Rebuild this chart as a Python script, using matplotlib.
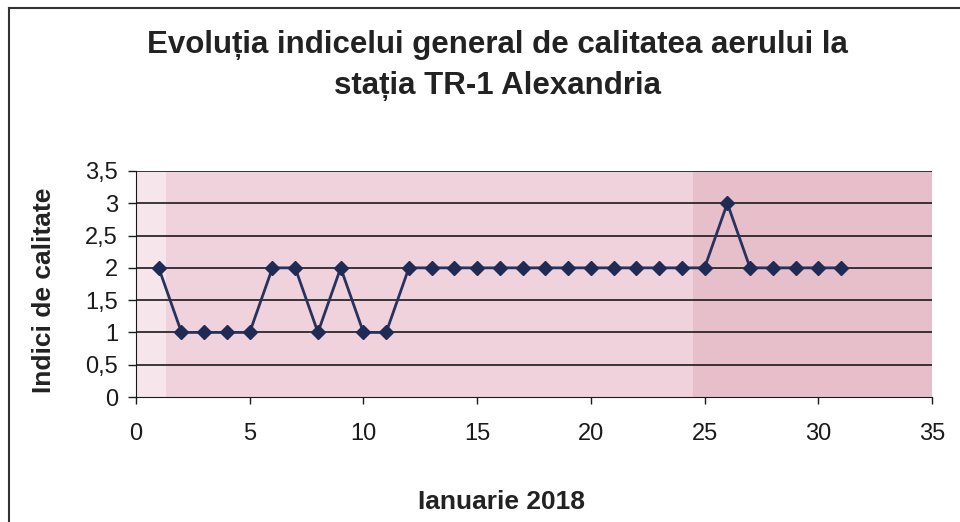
import matplotlib
matplotlib.use("Agg")
import matplotlib.pyplot as plt
from matplotlib.lines import Line2D
from matplotlib.ticker import FuncFormatter

# zilele lunii si indicii de calitate
zile = list(range(1, 32))
indici = [2, 1, 1, 1, 1, 2, 2, 1, 2, 1, 1, 2, 2, 2, 2, 2, 2, 2, 2, 2,
          2, 2, 2, 2, 2, 3, 2, 2, 2, 2, 2]

x_ticks = [0, 5, 10, 15, 20, 25, 30, 35]
y_ticks = [0, 0.5, 1, 1.5, 2, 2.5, 3, 3.5]

plt.rcParams['font.family'] = ['Liberation Sans', 'DejaVu Sans']

fig = plt.figure(figsize=(9.6, 5.22), dpi=100)
ax = fig.add_axes([136/960, 1 - 397/522, (932 - 136)/960, (397 - 171)/522])

# fundal roz (scanat)
ax.set_facecolor('#efd2dc')
ax.axvspan(24.5, 35, color='#e6bfcb', zorder=0, lw=0)
ax.axvspan(0, 1.3, color='#f6e6ec', zorder=0, lw=0)

# linii de grila orizontale
for yv in y_ticks[1:]:
    ax.axhline(yv, color='#1a1a1a', lw=1.2, zorder=1)

ax.plot(zile, indici, color='#27325e', lw=2, marker='D', markersize=7,
        markerfacecolor='#1f2a55', markeredgecolor='#1f2a55', zorder=3)

ax.set_xlim(0, 35)
ax.set_ylim(0, 3.5)
ax.set_xticks(x_ticks)
ax.set_yticks(y_ticks)
ax.yaxis.set_major_formatter(FuncFormatter(lambda v, p: ('%g' % v).replace('.', ',')))
ax.tick_params(axis='both', labelsize=17, colors='#1a1a1a', width=1)
ax.tick_params(axis='x', length=5, pad=14)
ax.tick_params(axis='y', length=6, pad=7)

for s in ['top', 'right']:
    ax.spines[s].set_visible(False)
ax.spines['left'].set_color('#1a1a1a')
ax.spines['bottom'].set_color('#1a1a1a')

fig.text(497/960, 1 - 45/522, 'Evoluția indicelui general de calitatea aerului la',
         ha='center', va='center', fontsize=22.5, fontweight='bold', color='#222222')
fig.text(497/960, 1 - 86/522, 'stația TR-1 Alexandria',
         ha='center', va='center', fontsize=22.5, fontweight='bold', color='#222222')

fig.text(44/960, 1 - 290/522, 'Indici de calitate', rotation=90,
         ha='center', va='center', fontsize=19, fontweight='bold', color='#222222')
fig.text(502/960, 1 - 502/522, 'Ianuarie 2018',
         ha='center', va='center', fontsize=19, fontweight='bold', color='#222222')

# chenarul graficului
fig.add_artist(Line2D([9/960, 1], [1 - 8/522, 1 - 8/522], color='#333333', lw=1.5))
fig.add_artist(Line2D([9/960, 9/960], [0, 1 - 8/522], color='#333333', lw=1.5))

fig.savefig('out.png', dpi=100)
